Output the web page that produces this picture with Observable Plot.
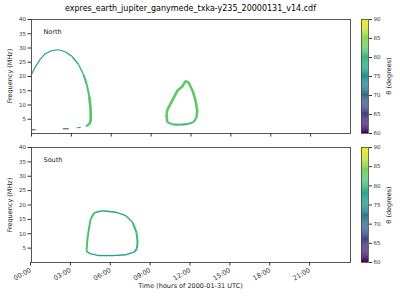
<!DOCTYPE html>
<html><head><meta charset="utf-8">
<script src="https://cdn.jsdelivr.net/npm/d3@7"></script>
<script src="https://cdn.jsdelivr.net/npm/@observablehq/plot@0.6"></script>
<style>
body{margin:0;background:#fff;font-family:"DejaVu Sans",sans-serif;}
#wrap{position:relative;width:400px;height:300px;overflow:hidden;}
.abs{position:absolute;}
#title{left:31px;width:319px;top:4px;text-align:center;font-size:8px;color:#000;white-space:nowrap;}
#xlabel{left:31px;width:319px;top:282px;text-align:center;font-size:6.5px;color:#222;white-space:nowrap;}
.rot{width:120px;margin-left:-60px;text-align:center;font-size:6.5px;color:#222;white-space:nowrap;transform:rotate(-90deg);line-height:8px;margin-top:-4px;}
</style></head><body><div id="wrap">
<div id="title" class="abs">expres_earth_jupiter_ganymede_txka-y235_20000131_v14.cdf</div>
<div id="xlabel" class="abs">Time (hours of 2000-01-31 UTC)</div>
<div class="abs rot" style="left:10px;top:76px">Frequency (MHz)</div>
<div class="abs rot" style="left:10px;top:204.5px">Frequency (MHz)</div>
<div class="abs rot" style="left:389px;top:76px">θ (degrees)</div>
<div class="abs rot" style="left:389px;top:204.5px">θ (degrees)</div>
</div>
<script>
// ---- tick values / labels ----
const hourTicks = [0, 3, 6, 9, 12, 15, 18, 21];
const hourLabels = ["00:00", "03:00", "06:00", "09:00", "12:00", "15:00", "18:00", "21:00"];
const freqTicks = [5, 10, 15, 20, 25, 30, 35, 40];
const thetaTicks = [60, 65, 70, 75, 80, 85, 90];

// ---- North: big arc (time in hours, frequency MHz, theta degrees) ----
const nArcTime  = [0.02, 0.28, 0.65, 1.03, 1.53, 2.03, 2.54, 3.03, 3.54, 3.91, 4.16, 4.34, 4.44, 4.46, 4.36, 4.09];
const nArcFreq  = [20.9, 23.3, 26.0, 28.0, 29.1, 29.4, 28.7, 27.1, 24.2, 20.7, 17.2, 13.1, 9.0, 4.9, 3.2, 2.6];
const nArcTheta = [76, 76, 76, 76.5, 76.5, 77, 77.5, 78.5, 79.5, 80.5, 81.5, 82, 82, 82, 81, 79];
// North: low-frequency fragments
const nFragTime  = [3.40, 3.70];
const nFragFreq  = [2.0, 2.1];
const nFragTheta = [77, 77];
const nDash1Time = [0.02, 0.30];
const nDash1Freq = [1.3, 1.3];
const nDash1Theta = [67, 67];
const nDash2Time = [2.36, 2.80];
const nDash2Freq = [1.65, 1.65];
const nDash2Theta = [68, 68];
// North: second loop (~12:00)
const nLoopTime  = [10.16, 10.21, 10.61, 11.21, 11.74, 12.19, 12.42, 12.47, 12.34, 12.11, 11.81, 11.59, 11.34, 10.99, 10.59, 10.23, 10.16];
const nLoopFreq  = [6.9, 4.0, 3.2, 3.05, 3.3, 4.0, 5.6, 8.1, 11.6, 15.1, 17.9, 18.4, 16.5, 15.1, 11.6, 8.4, 6.9];
const nLoopTheta = [82.5, 81.5, 80.5, 80, 80.5, 81.5, 82.5, 82.5, 82.5, 82.5, 82.5, 82.5, 82.5, 82.5, 82.5, 82.5, 82.5];

// ---- South loop ----
const sLoopTime  = [4.14, 4.21, 4.34, 4.46, 4.72, 5.34, 6.34, 7.10, 7.60, 7.90, 7.98, 7.93, 7.73, 7.10, 6.10, 5.09, 4.46, 4.21, 4.14];
const sLoopFreq  = [4.2, 8.2, 12.3, 15.2, 17.3, 18.0, 17.5, 16.3, 14.0, 10.5, 7.1, 4.8, 3.6, 2.7, 2.4, 2.4, 3.0, 3.6, 4.2];
const sLoopTheta = [81.5, 81.5, 81.5, 81, 79, 78, 78, 78.5, 80, 80.5, 80.5, 80, 78.5, 77.5, 77.5, 77.5, 78, 80, 81.5];

function rows(arc, T, F, TH) {
  return T.map((t, i) => ({arc, t, f: F[i], theta: TH[i]}));
}
const north = [
  ...rows("arc", nArcTime, nArcFreq, nArcTheta),
  ...rows("frag", nFragTime, nFragFreq, nFragTheta),
  ...rows("d1", nDash1Time, nDash1Freq, nDash1Theta),
  ...rows("d2", nDash2Time, nDash2Freq, nDash2Theta),
  ...rows("loop", nLoopTime, nLoopFreq, nLoopTheta)
];
const south = rows("loop", sLoopTime, sLoopFreq, sLoopTheta);

const color = {type: "linear", scheme: "viridis", domain: [60, 90]};
const fmtHour = d => hourLabels[hourTicks.indexOf(d)];
// thicker where emission is greener (higher theta), thin where faint/teal
const width = d => d.theta >= 82 ? 2.6 : d.theta >= 80 ? 2 : d.theta >= 77.5 ? 1.4 : 1.1;

function panel(data, name, showX, height, mb) {
  return Plot.plot({
    width: 360, height, marginLeft: 31, marginRight: 10, marginTop: 5, marginBottom: mb,
    style: {fontFamily: "DejaVu Sans", fontSize: "5.5px", color: "#333", background: "transparent", overflow: "visible"},
    x: {domain: [0, 24]},
    y: {domain: [0, 40]},
    color,
    marks: [
      Plot.line(data, {x: "t", y: "f", z: "arc", stroke: "theta", strokeWidth: width, strokeLinejoin: "miter", strokeLinecap: "butt"}),
      Plot.frame({stroke: "#444", strokeWidth: 0.9}),
      Plot.axisY({ticks: freqTicks, tickSize: 3.5, tickPadding: 2, label: null}),
      showX
        ? Plot.axisX({ticks: hourTicks, tickSize: 3.5, tickPadding: 3.5, tickFormat: fmtHour, tickRotate: -30, fontSize: 6.5, dx: -1, label: null})
        : Plot.axisX({ticks: hourTicks, tickSize: 3.5, tickFormat: () => "", label: null}),
      Plot.text([name], {frameAnchor: "top-left", dx: 12, dy: 10, text: d => d, textAnchor: "start", fontSize: 6.5, fill: "#222"})
    ]
  });
}

const stops = d3.range(60, 90, 0.25);
function colorbar(height, mb) {
  return Plot.plot({
    width: 45, height, marginLeft: 6, marginRight: 32, marginTop: 5, marginBottom: mb,
    style: {fontFamily: "DejaVu Sans", fontSize: "5.5px", color: "#333", background: "transparent", overflow: "visible"},
    x: {domain: [0, 1], axis: null},
    y: {domain: [60, 90]},
    color,
    marks: [
      Plot.rect(stops, {x1: 0, x2: 1, y1: d => d, y2: d => d + 0.26, fill: d => d}),
      Plot.frame({stroke: "#444", strokeWidth: 0.8}),
      Plot.axisY({anchor: "right", ticks: thetaTicks, tickSize: 3, tickPadding: 2, label: null})
    ]
  });
}

function place(el, left, top) {
  el.classList.add("abs");
  el.style.left = left + "px";
  el.style.top = top + "px";
  document.getElementById("wrap").appendChild(el);
}
place(panel(north, "North", false, 124, 5), 0, 14);
place(panel(south, "South", true, 155, 35), 0, 142);
place(colorbar(124, 5), 355, 14);
place(colorbar(155, 35), 355, 142);
</script>
</body></html>
